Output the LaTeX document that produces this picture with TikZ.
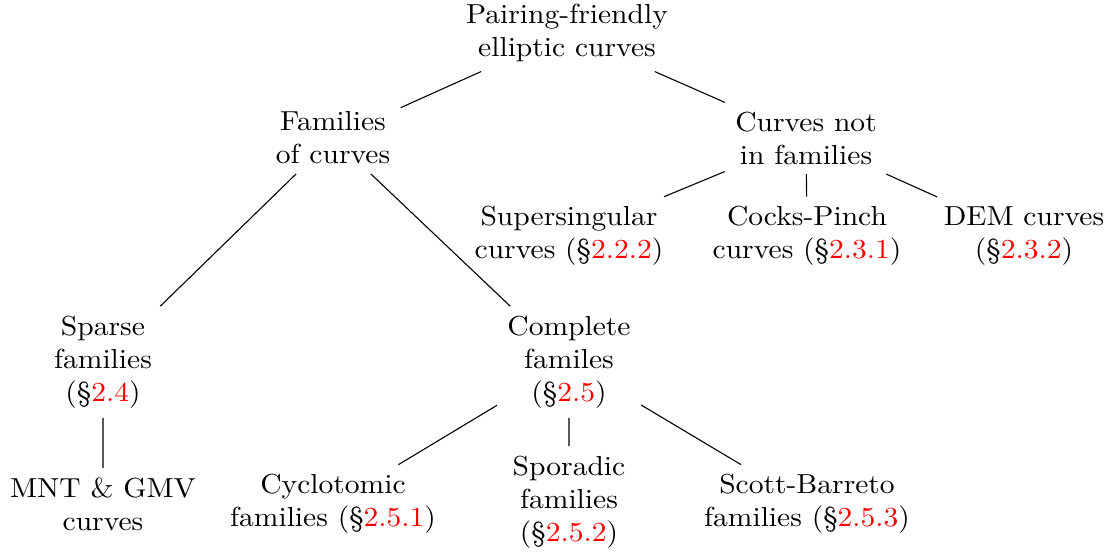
\documentclass[tikz,border=0pt]{standalone}
\usepackage{xcolor}
\newcommand{\sref}[1]{(\S\textcolor{red}{#1})}
\begin{document}
\begin{tikzpicture}[x=0.3636pt,y=-0.3636pt,
  lbl/.style={align=center, inner sep=3.33pt, xscale=1.075},
  edge/.style={draw=black, line width=0.4pt}]
\useasboundingbox (0,0) rectangle (1109,552);
\node[lbl] (root) at (567,33) {Pairing-friendly\\elliptic curves};
\node[lbl] (fam) at (333,138) {Families\\of curves};
\node[lbl] (notfam) at (806,138) {Curves not\\in families};
\node[lbl] (super) at (569,236) {Supersingular\\curves \sref{2.2.2}};
\node[lbl] (cocks) at (807,236) {Cocks-Pinch\\curves \sref{2.3.1}};
\node[lbl] (dem) at (1024,236) {DEM curves\\\sref{2.3.2}};
\node[lbl] (sparse) at (103,362) {Sparse\\families\\\sref{2.4}};
\node[lbl] (complete) at (569,362) {Complete\\familes\\\sref{2.5}};
\node[lbl] (mnt) at (103,504) {MNT \& GMV\\curves};
\node[lbl] (cyclo) at (333,504) {Cyclotomic\\families \sref{2.5.1}};
\node[lbl] (spor) at (569,502) {Sporadic\\families\\\sref{2.5.2}};
\node[lbl] (scott) at (807,504) {Scott-Barreto\\families \sref{2.5.3}};
\draw[edge] (root) -- (fam);
\draw[edge] (root) -- (notfam);
\draw[edge] (fam) -- (sparse);
\draw[edge] (fam) -- (complete);
\draw[edge] (notfam) -- (super);
\draw[edge] (notfam) -- (cocks);
\draw[edge] (notfam) -- (dem);
\draw[edge] (sparse) -- (mnt);
\draw[edge] (complete) -- (cyclo);
\draw[edge] (complete) -- (spor);
\draw[edge] (complete) -- (scott);
\end{tikzpicture}
\end{document}
